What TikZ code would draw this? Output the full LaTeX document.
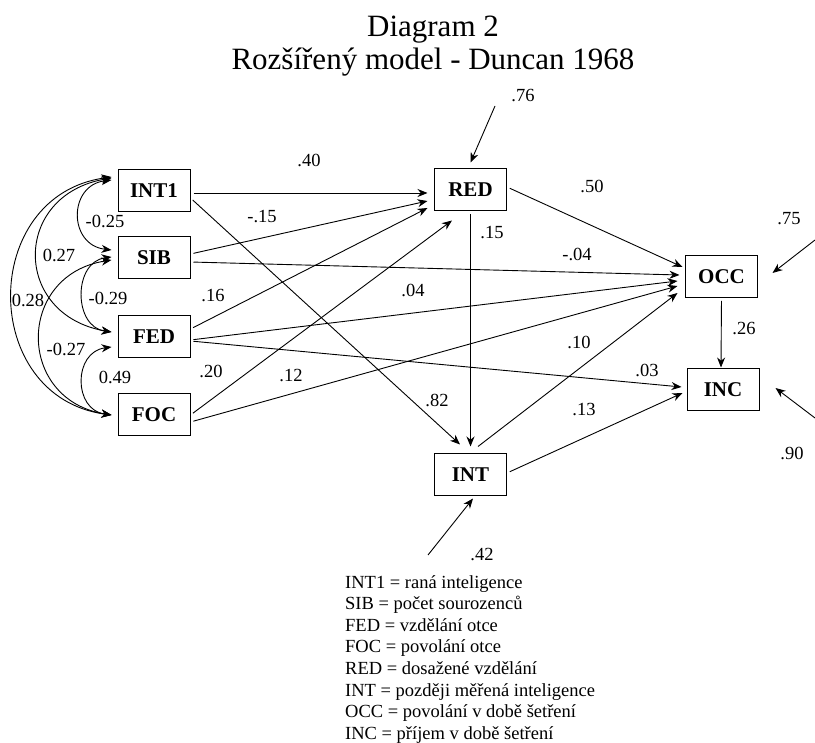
\documentclass[tikz,border=0pt]{standalone}
\usepackage{fontspec}
\setmainfont{Liberation Serif}
\usetikzlibrary{arrows.meta}

\begin{document}
\begin{tikzpicture}[
  x=1pt,y=-1pt,
  var/.style={draw,line width=1pt,minimum width=72pt,minimum height=42pt,inner sep=0pt,
    font=\fontsize{21}{25}\selectfont\bfseries},
  arrow/.style={-{Stealth[length=10pt,width=8pt]},line width=0.9pt,shorten <=3pt},
  cov/.style={{Stealth[length=10pt,width=8pt]}-{Stealth[length=10pt,width=8pt]},line width=0.9pt},
  coef/.style={inner sep=0pt,font=\fontsize{18.5}{22}\selectfont}
]
\useasboundingbox (0,0) rectangle (815,743);
\node[anchor=base,font=\fontsize{31}{36}\selectfont] (title) at (433,37) {Diagram 2};
\node[anchor=base,font=\fontsize{31}{36}\selectfont] (subtitle) at (433,70) {Rozšířený model - Duncan 1968};
\node[var] (int1) at (154,191) {INT1};
\node[var] (sib) at (154,258) {SIB};
\node[var] (fed) at (154,337) {FED};
\node[var] (foc) at (154,415) {FOC};
\node[var] (red) at (470.5,189.5) {RED};
\node[var] (occ) at (721.5,276.5) {OCC};
\node[var] (inc) at (723,390) {INC};
\node[var] (int) at (470.5,475) {INT};
% paths
\draw[arrow] ([yshift=-2pt]int1.east) -- ([xshift=-6.5pt,yshift=-3.5pt]red.west);
\draw[arrow] ([yshift=-7pt]int1.east) -- ([xshift=-10.5pt,yshift=9pt]int.north);
\draw[arrow] ([yshift=4pt]sib.east) -- ([xshift=-6.5pt,yshift=-11.5pt]red.west);
\draw[arrow] ([yshift=-4pt]sib.east) -- ([xshift=-5.5pt,yshift=1.5pt]occ.west);
\draw[arrow] ([yshift=8pt]fed.east) -- ([xshift=-6.5pt,yshift=-18.5pt]red.west);
\draw[arrow] ([yshift=-3pt]fed.east) -- ([xshift=-7.5pt,yshift=-4.5pt]occ.west);
\draw[arrow] ([yshift=-4pt]fed.east) -- ([xshift=-5pt,yshift=3pt]inc.west);
\draw[arrow] (foc.east) -- ([xshift=-18.5pt,yshift=-9.5pt]red.south);
\draw[arrow] ([yshift=-7pt]foc.east) -- ([xshift=-7.5pt,yshift=-9.5pt]occ.west);
\draw[arrow] ([yshift=2.5pt]red.east) -- ([xshift=-2.5pt,yshift=9.5pt]occ.west);
\draw[arrow] (red.south) -- ([yshift=7pt]int.north);
\draw[arrow,shorten <=0pt] ([xshift=7.5pt,yshift=7pt]int.north) -- ([xshift=-7.5pt,yshift=-16.5pt]occ.west);
\draw[arrow] ([yshift=2pt]int.east) -- ([xshift=-4pt,yshift=-3pt]inc.west);
\draw[arrow] (occ.south) -- ([xshift=-2pt,yshift=1pt]inc.north);
% residuals
\coordinate (ered) at (495,106);
\coordinate (eocc) at (815,240);
\coordinate (einc) at (815,418);
\coordinate (eint) at (428,555);
\draw[arrow,shorten <=0pt] (ered) -- ([yshift=5.5pt]red.north);
\draw[arrow,shorten <=0pt] (eocc) -- ([xshift=14.5pt,yshift=3.5pt]occ.east);
\draw[arrow,shorten <=0pt] (einc) -- ([xshift=16pt,yshift=2pt]inc.east);
\draw[arrow,shorten <=0pt] (eint) -- ([xshift=2.5pt,yshift=-2pt]int.south);
% correlations
\draw[cov] ([xshift=-6pt,yshift=11pt]int1.west) .. controls (68,185) and (68,245) .. ([xshift=-6pt,yshift=8pt]sib.west);
\draw[cov] ([xshift=-6pt,yshift=1pt]sib.west) .. controls (73,262) and (73,327) .. ([xshift=-6pt,yshift=5pt]fed.west);
\draw[cov] ([xshift=-6pt,yshift=-10pt]fed.west) .. controls (73,352) and (73,410) .. ([xshift=-6pt]foc.west);
\draw[cov] ([xshift=-6pt,yshift=13pt]int1.west) .. controls (12,195) and (12,315) .. ([xshift=-6pt,yshift=5pt]fed.west);
\draw[cov] ([xshift=-6pt,yshift=-2pt]sib.west) .. controls (16,275) and (16,400) .. ([xshift=-6pt]foc.west);
\draw[cov] ([xshift=-6pt,yshift=14pt]int1.west) .. controls (-21,195) and (-21,397) .. ([xshift=-6pt]foc.west);
% labels
\node[coef] (c2512) at (105,221) {-0.25};
\node[coef] (c2923) at (108,298) {-0.29};
\node[coef] (c4934) at (115,377) {0.49};
\node[coef] (c2713) at (59,255) {0.27};
\node[coef] (c2724) at (66,349) {-0.27};
\node[coef] (c2814) at (28,300) {0.28};
\node[coef] (c40) at (309,160) {.40};
\node[coef] (c15s) at (262,217) {-.15};
\node[coef] (c04s) at (577,254) {-.04};
\node[coef] (c16) at (213,296) {.16};
\node[coef] (c04f) at (413,290) {.04};
\node[coef] (c03) at (647,370) {.03};
\node[coef] (c20) at (211,371) {.20};
\node[coef] (c12) at (291,376) {.12};
\node[coef] (c50) at (592,186) {.50};
\node[coef] (c15r) at (492,233) {.15};
\node[coef] (c10) at (579,342) {.10};
\node[coef] (c13) at (584,410) {.13};
\node[coef] (c26) at (744,329) {.26};
\node[coef] (c82) at (437,400) {.82};
\node[coef] (r76) at (523,96) {.76};
\node[coef] (r75) at (789,219) {.75};
\node[coef] (r90) at (792,453) {.90};
\node[coef] (r42) at (482,555) {.42};
\node[anchor=north west,inner sep=0pt,align=left,font=\fontsize{18.5}{21.6}\selectfont] (legend) at (345,575)
  {INT1 = raná inteligence\\SIB = počet sourozenců\\FED = vzdělání otce\\FOC = povolání otce\\
   RED = dosažené vzdělání\\INT = později měřená inteligence\\OCC = povolání v době šetření\\INC = příjem v době šetření};
\end{tikzpicture}
\end{document}
